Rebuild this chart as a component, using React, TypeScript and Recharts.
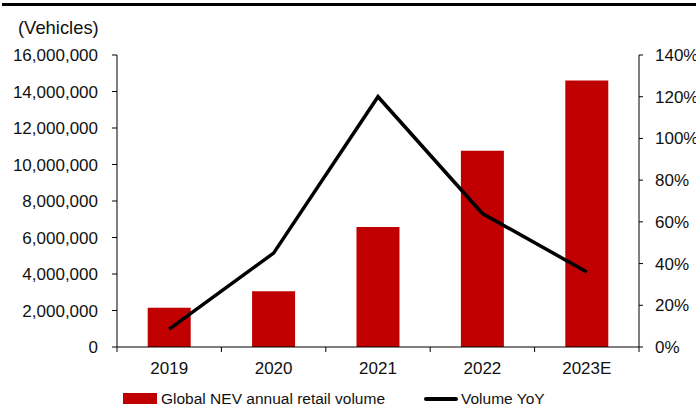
import { ComposedChart, Bar, Line, XAxis, YAxis, Legend } from "recharts";

const years = ["2019", "2020", "2021", "2022", "2023E"];
const retailVolume = [2150000, 3050000, 6580000, 10750000, 14600000];
const volumeYoY = [8.6, 45, 120, 64, 36];
const leftTicks = [0, 2000000, 4000000, 6000000, 8000000, 10000000, 12000000, 14000000, 16000000];
const rightTicks = [0, 20, 40, 60, 80, 100, 120, 140];

const data = years.map((year, i) => ({
  year,
  volume: retailVolume[i],
  yoy: volumeYoY[i],
}));

const RED = "#C00000";
const FONT = '"Liberation Sans", Arial, sans-serif';
const W = 696;
const H = 410;
const LEFT_W = 117;
const RIGHT_W = 57;
const PLOT_W = W - LEFT_W - RIGHT_W;

const YearTick = (props: any) => {
  const { x, y, payload, index } = props;
  const half = PLOT_W / years.length / 2;
  return (
    <g>
      <line x1={x - half} x2={x - half} y1={y - 5} y2={y} stroke="#000" />
      {index === years.length - 1 && (
        <line x1={x + half} x2={x + half} y1={y - 5} y2={y} stroke="#000" />
      )}
      <text x={x} y={y + 22} textAnchor="middle" fill="#111" fontSize={17} fontFamily={FONT}>
        {payload.value}
      </text>
    </g>
  );
};

const renderLegend = (props: any) => {
  const items = props.payload || [];
  const bar = items.find((p: any) => p.dataKey === "volume");
  const line = items.find((p: any) => p.dataKey === "yoy");
  return (
    <div style={{ position: "relative", width: W, height: 22, fontFamily: FONT, fontSize: 15.5, color: "#111" }}>
      <div style={{ position: "absolute", left: 123, top: 5, width: 34, height: 11, background: RED }} />
      <span style={{ position: "absolute", left: 161, top: 0, lineHeight: "22px", whiteSpace: "nowrap" }}>
        {bar ? bar.value : ""}
      </span>
      <div style={{ position: "absolute", left: 424, top: 9, width: 34, height: 4, background: "#000", borderRadius: 2 }} />
      <span style={{ position: "absolute", left: 461, top: 0, lineHeight: "22px", whiteSpace: "nowrap" }}>
        {line ? line.value : ""}
      </span>
    </div>
  );
};

export default function App() {
  return (
    <div style={{ position: "absolute", left: 0, top: 0, width: W, height: H, background: "#fff", fontFamily: FONT }}>
      <div style={{ position: "absolute", left: 2, top: 3, width: W - 2, height: 3, background: "#000" }} />
      <div style={{ position: "absolute", left: 18, top: 17, fontSize: 18.4, lineHeight: "21px", color: "#111" }}>
        (Vehicles)
      </div>
      <ComposedChart
        width={W}
        height={H}
        data={data}
        margin={{ top: 55, right: 0, left: 0, bottom: 33 }}
        barCategoryGap="29.4%"
      >
        <XAxis
          dataKey="year"
          height={30}
          stroke="#000"
          tickLine={false}
          tickSize={5}
          tickMargin={0}
          tick={<YearTick />}
          interval={0}
        />
        <YAxis
          yAxisId="left"
          orientation="left"
          width={LEFT_W}
          domain={[0, 16000000]}
          ticks={leftTicks}
          interval={0}
          stroke="#000"
          tickSize={5}
          tickMargin={14}
          tick={{ fill: "#111", fontSize: 17, fontFamily: FONT }}
          tickFormatter={(v: number) => v.toLocaleString("en-US")}
        />
        <YAxis
          yAxisId="right"
          orientation="right"
          width={RIGHT_W}
          domain={[0, 140]}
          ticks={rightTicks}
          interval={0}
          stroke="#000"
          tickSize={4}
          tickMargin={12}
          tick={{ fill: "#111", fontSize: 17, fontFamily: FONT, textAnchor: "start" }}
          tickFormatter={(v: number) => `${v}%`}
        />
        <Legend
          layout="horizontal"
          verticalAlign="middle"
          align="center"
          wrapperStyle={{ top: 388, left: 0, width: W }}
          content={renderLegend}
        />
        <Bar
          yAxisId="left"
          dataKey="volume"
          name="Global NEV annual retail volume"
          fill={RED}
          isAnimationActive={false}
        />
        <Line
          yAxisId="right"
          dataKey="yoy"
          name="Volume YoY"
          stroke="#000"
          strokeWidth={3.5}
          dot={false}
          activeDot={false}
          isAnimationActive={false}
        />
      </ComposedChart>
    </div>
  );
}
